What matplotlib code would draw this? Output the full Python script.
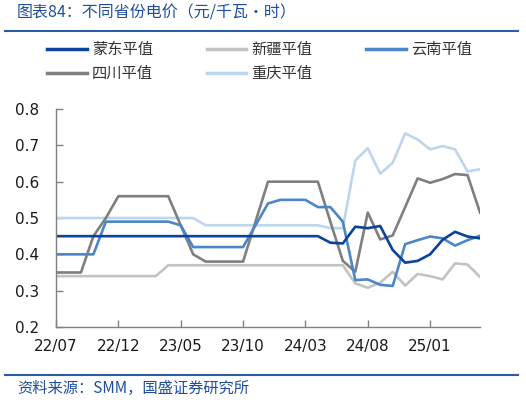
import matplotlib
matplotlib.use('Agg')
from matplotlib import pyplot as plt
from matplotlib.lines import Line2D

plt.rcParams['font.family'] = ['DejaVu Sans']
cjk = ['Noto Sans CJK SC', 'DejaVu Sans']

# 月份 2022/07 - 2025/05
months = ['22/07', '22/08', '22/09', '22/10', '22/11', '22/12',
          '23/01', '23/02', '23/03', '23/04', '23/05', '23/06',
          '23/07', '23/08', '23/09', '23/10', '23/11', '23/12',
          '24/01', '24/02', '24/03', '24/04', '24/05', '24/06',
          '24/07', '24/08', '24/09', '24/10', '24/11', '24/12',
          '25/01', '25/02', '25/03', '25/04', '25/05']

mengdong = [0.45] * 22 + [0.432, 0.43, 0.476, 0.472, 0.478, 0.412, 0.377,
                          0.382, 0.40, 0.44, 0.462, 0.449, 0.444]
xinjiang = [0.34] * 9 + [0.37] * 15 + [0.32, 0.308, 0.322, 0.352, 0.314,
                                       0.346, 0.34, 0.331, 0.375, 0.372, 0.338]
yunnan = [0.40] * 4 + [0.49] * 6 + [0.48] + [0.42] * 5 + [0.48, 0.54] + \
         [0.55] * 3 + [0.53, 0.53, 0.49, 0.329, 0.331, 0.316, 0.313, 0.428,
                       0.439, 0.449, 0.444, 0.424, 0.439, 0.451]
sichuan = [0.35] * 3 + [0.45, 0.50] + [0.56] * 5 + [0.48, 0.40] + [0.38] * 4 + \
          [0.49] + [0.60] * 5 + [0.49, 0.382, 0.352, 0.515, 0.441, 0.452, 0.53,
                                 0.609, 0.597, 0.607, 0.621, 0.618, 0.515]
chongqing = [0.50] * 12 + [0.48] * 10 + [0.472, 0.472, 0.658, 0.692, 0.622,
                                         0.652, 0.733, 0.716, 0.689, 0.698,
                                         0.689, 0.628, 0.634]

tick_labels = ['22/07', '22/12', '23/05', '23/10', '24/03', '24/08', '25/01']

c_mengdong = '#0B429A'
c_xinjiang = '#C3C3C3'
c_yunnan = '#4A86C8'
c_sichuan = '#7F7F7F'
c_chongqing = '#BDD5EF'
c_rule = '#2A5CA8'
c_title = '#1F4E9B'

fig = plt.figure(figsize=(5.26, 4.0), dpi=100)
ax = fig.add_axes([56 / 526, 73 / 400, 424 / 526, 218 / 400])

x = list(range(len(months)))
lw = 1.9
ax.plot(x, chongqing, color=c_chongqing, linewidth=lw)
ax.plot(x, xinjiang, color=c_xinjiang, linewidth=lw)
ax.plot(x, sichuan, color=c_sichuan, linewidth=lw)
ax.plot(x, yunnan, color=c_yunnan, linewidth=lw)
ax.plot(x, mengdong, color=c_mengdong, linewidth=lw)

ax.set_xlim(0, len(months) - 1)
ax.set_ylim(0.2, 0.8)
ax.set_yticks([0.2, 0.3, 0.4, 0.5, 0.6, 0.7, 0.8])
ax.set_xticks([months.index(t) for t in tick_labels])
ax.set_xticklabels(tick_labels)
ax.tick_params(axis='both', direction='in', length=5, width=1,
               color='#808080', labelsize=11, labelcolor='#1a1a1a')
ax.tick_params(axis='y', pad=12)
ax.tick_params(axis='x', pad=9)
for s in ['top', 'right']:
    ax.spines[s].set_visible(False)
for s in ['left', 'bottom']:
    ax.spines[s].set_color('#808080')
    ax.spines[s].set_linewidth(1)

# легенда
handles = [Line2D([], [], color=c_mengdong, linewidth=2.5),
           Line2D([], [], color=c_sichuan, linewidth=2.5),
           Line2D([], [], color=c_xinjiang, linewidth=2.5),
           Line2D([], [], color=c_chongqing, linewidth=2.5),
           Line2D([], [], color=c_yunnan, linewidth=2.5)]
labels = ['蒙东平值', '四川平值', '新疆平值', '重庆平值', '云南平值']
fig.legend(handles, labels, loc='upper left', bbox_to_anchor=(47 / 526, 1 - 41 / 400),
           ncol=3, frameon=False, borderpad=0, borderaxespad=0,
           handlelength=2.6, handletextpad=0.35, columnspacing=3.5,
           labelspacing=0.45, prop={'family': cjk, 'size': 11},
           labelcolor='#333333')

# заголовок и источник
fig.text(17 / 526, 1 - 13 / 400, '图表84：不同省份电价（元/千瓦·时）', family=cjk,
         fontsize=11.5, color=c_title, style='italic', va='center', ha='left')
fig.add_artist(Line2D([5 / 526, 518 / 526], [1 - 31 / 400, 1 - 31 / 400],
                      color=c_rule, linewidth=1.5))
fig.add_artist(Line2D([5 / 526, 518 / 526], [1 - 375 / 400, 1 - 375 / 400],
                      color=c_rule, linewidth=1.5))
fig.text(17 / 526, 1 - 388 / 400, '资料来源：SMM，国盛证券研究所', family=cjk,
         fontsize=11, color=c_title, style='italic', va='center', ha='left')

fig.savefig('out.png', dpi=100)
